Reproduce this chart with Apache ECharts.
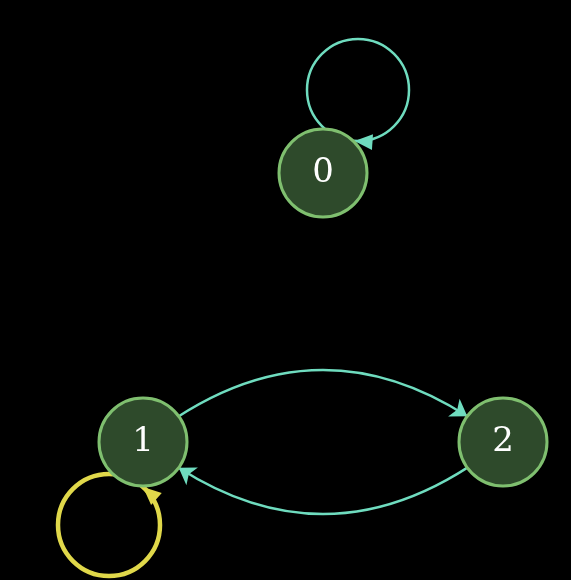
<!DOCTYPE html>
<html><head><meta charset="utf-8">
<script src="https://cdn.jsdelivr.net/npm/echarts@6/dist/echarts.min.js"></script>
<style>html,body{margin:0;background:#000}#main{width:571px;height:580px}</style>
</head><body><div id="main"></div>
<script>
const nodeNames = ["0", "1", "2"];
const nodeX = [0.5, 0, 1];
const nodeY = [1, 0, 0];
const edges = [["1", "2"], ["2", "1"]];
// self loops: node index, loop centre offset (px), colour, width, side of arrow
const loops = [
  { node: 0, dx: 35, dy: -83, color: "#6fdcbf", width: 2.5, side: 1 },
  { node: 1, dx: -34, dy: 83, color: "#e0d84a", width: 4.5, side: -1 },
];
const nodeR = 45, loopR = 51;

const chart = echarts.init(document.getElementById("main"));

function renderLoop(params, api) {
  const l = loops[params.dataIndex];
  const c = api.coord([nodeX[l.node], nodeY[l.node]]);
  const lc = [c[0] + l.dx, c[1] + l.dy];
  // intersection of node circle and loop circle
  const dx = lc[0] - c[0], dy = lc[1] - c[1];
  const d = Math.hypot(dx, dy);
  const a = (nodeR * nodeR - loopR * loopR + d * d) / (2 * d);
  const h = Math.sqrt(Math.max(nodeR * nodeR - a * a, 0));
  const mx = c[0] + (a * dx) / d, my = c[1] + (a * dy) / d;
  const px = mx + l.side * (h * -dy) / d, py = my + l.side * (h * dx) / d;
  // tangent at tip, pointing away from node
  let tx = -(py - lc[1]), ty = px - lc[0];
  const tl = Math.hypot(tx, ty);
  tx /= tl; ty /= tl;
  if (tx * (px - c[0]) + ty * (py - c[1]) < 0) { tx = -tx; ty = -ty; }
  const len = 18, hw = 8;
  const bx = px + tx * len, by = py + ty * len;
  return {
    type: "group",
    children: [
      { type: "circle", shape: { cx: lc[0], cy: lc[1], r: loopR },
        style: { fill: "none", stroke: l.color, lineWidth: l.width } },
      { type: "polygon",
        shape: { points: [[px, py], [bx - ty * hw, by + tx * hw], [bx + ty * hw, by - tx * hw]] },
        style: { fill: l.color } },
    ],
  };
}

chart.setOption({
  backgroundColor: "#000",
  grid: { left: 143, right: 68, top: 173, bottom: 138 },
  xAxis: { type: "value", min: 0, max: 1, show: false },
  yAxis: { type: "value", min: 0, max: 1, show: false },
  series: [
    {
      type: "custom",
      z: 1,
      renderItem: renderLoop,
      data: loops.map((l) => [nodeX[l.node], nodeY[l.node]]),
      silent: true,
    },
    {
      type: "graph",
      coordinateSystem: "cartesian2d",
      z: 2,
      symbolSize: 88,
      itemStyle: { color: "#2e4a2b", borderColor: "#7fbf6f", borderWidth: 3 },
      label: { show: true, color: "#fff", fontSize: 34, fontFamily: "DejaVu Serif" },
      edgeSymbol: ["none", "arrow"],
      edgeSymbolSize: 16,
      lineStyle: { color: "#6fdcbf", width: 2.5, curveness: 0.4, opacity: 1 },
      data: nodeNames.map((n, i) => ({ name: n, value: [nodeX[i], nodeY[i]] })),
      links: edges.map((e) => ({ source: e[0], target: e[1] })),
    },
  ],
});
</script></body></html>
